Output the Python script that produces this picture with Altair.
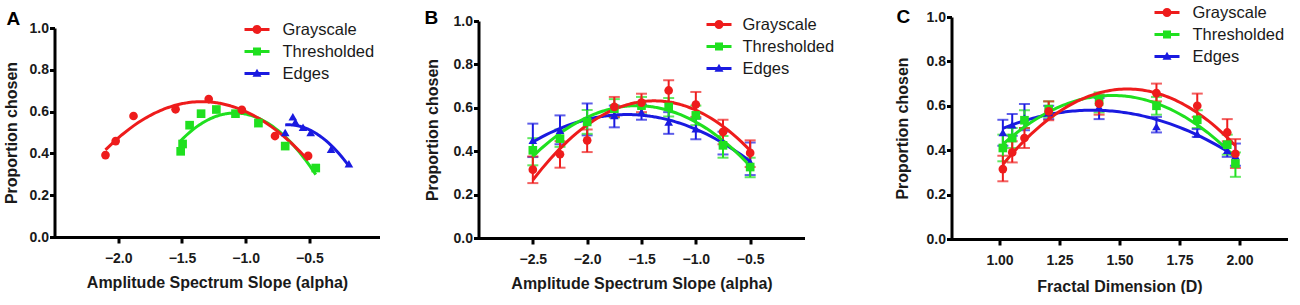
import altair as alt
import pandas as pd

FONT = "Liberation Sans"
SERIES = ["Grayscale", "Thresholded", "Edges"]
COLORS = ["#ee1c1c", "#1fe01f", "#1a1ae0"]
POINT_SHAPES = ["circle", "square", "triangle-up"]
LEGEND_SHAPES = [
    "M-1,-0.12H1V0.12H-1Z M-0.36,0A0.36,0.36 0 1,1 0.36,0A0.36,0.36 0 1,1 -0.36,0Z",
    "M-1,-0.12H1V0.12H-1Z M-0.32,-0.32H0.32V0.32H-0.32Z",
    "M-1,-0.12H1V0.12H-1Z M0,-0.38L0.36,0.26L-0.36,0.26Z",
]
Y_TICKS = [0.0, 0.2, 0.4, 0.6, 0.8, 1.0]

# ---------------- Panel A (no error bars) ----------------
A_gray_x = [-2.10, -2.02, -1.88, -1.55, -1.29, -1.03, -0.77, -0.51]
A_gray_y = [0.392, 0.459, 0.579, 0.611, 0.660, 0.608, 0.483, 0.388]
A_thr_x = [-1.51, -1.495, -1.44, -1.35, -1.23, -1.08, -0.90, -0.69, -0.45]
A_thr_y = [0.410, 0.445, 0.535, 0.590, 0.610, 0.590, 0.545, 0.435, 0.330]
A_edge_x = [-0.69, -0.63, -0.61, -0.55, -0.49, -0.33, -0.19]
A_edge_y = [0.500, 0.575, 0.550, 0.525, 0.500, 0.420, 0.350]

# ---------------- Panel B ----------------
B_x = [-2.5, -2.25, -2.0, -1.75, -1.5, -1.25, -1.0, -0.75, -0.5]
B_gray_y = [0.315, 0.386, 0.450, 0.604, 0.624, 0.680, 0.615, 0.489, 0.392]
B_gray_lo = [0.253, 0.324, 0.396, 0.558, 0.580, 0.627, 0.558, 0.432, 0.327]
B_gray_hi = [0.376, 0.446, 0.500, 0.650, 0.665, 0.727, 0.673, 0.545, 0.450]
B_thr_y = [0.404, 0.458, 0.535, 0.596, 0.610, 0.604, 0.565, 0.427, 0.327]
B_thr_lo = [0.335, 0.420, 0.480, 0.555, 0.570, 0.560, 0.520, 0.370, 0.280]
B_thr_hi = [0.460, 0.500, 0.590, 0.640, 0.650, 0.645, 0.610, 0.470, 0.370]
B_edge_y = [0.450, 0.496, 0.542, 0.565, 0.580, 0.535, 0.504, 0.440, 0.350]
B_edge_lo = [0.373, 0.432, 0.473, 0.510, 0.545, 0.480, 0.455, 0.385, 0.290]
B_edge_hi = [0.527, 0.565, 0.620, 0.610, 0.615, 0.580, 0.550, 0.490, 0.440]

# ---------------- Panel C ----------------
C_x = [1.014, 1.053, 1.104, 1.205, 1.415, 1.654, 1.824, 1.949, 1.983]
C_gray_y = [0.315, 0.390, 0.455, 0.575, 0.610, 0.657, 0.600, 0.480, 0.384]
C_gray_lo = [0.260, 0.345, 0.410, 0.535, 0.560, 0.620, 0.550, 0.440, 0.320]
C_gray_hi = [0.375, 0.440, 0.500, 0.620, 0.650, 0.700, 0.655, 0.540, 0.450]
C_thr_y = [0.410, 0.455, 0.535, 0.585, 0.620, 0.600, 0.537, 0.425, 0.340]
C_thr_lo = [0.350, 0.410, 0.500, 0.550, 0.570, 0.560, 0.500, 0.380, 0.280]
C_thr_hi = [0.470, 0.500, 0.580, 0.620, 0.660, 0.640, 0.580, 0.470, 0.390]
C_edge_y = [0.480, 0.515, 0.545, 0.570, 0.595, 0.507, 0.473, 0.400, 0.375]
C_edge_lo = [0.420, 0.465, 0.490, 0.540, 0.540, 0.480, 0.460, 0.370, 0.330]
C_edge_hi = [0.537, 0.563, 0.608, 0.600, 0.635, 0.550, 0.495, 0.430, 0.430]


def make_df(groups):
    rows = []
    for name, xs, ys, los, his in groups:
        for i in range(len(xs)):
            r = {"series": name, "x": xs[i], "y": ys[i]}
            if los is not None:
                r["lo"] = los[i]
                r["hi"] = his[i]
            rows.append(r)
    return pd.DataFrame(rows)


# drawing order: Edges first, Grayscale on top
dfA = make_df([
    ("Edges", A_edge_x, A_edge_y, None, None),
    ("Thresholded", A_thr_x, A_thr_y, None, None),
    ("Grayscale", A_gray_x, A_gray_y, None, None),
])
dfB = make_df([
    ("Edges", B_x, B_edge_y, B_edge_lo, B_edge_hi),
    ("Thresholded", B_x, B_thr_y, B_thr_lo, B_thr_hi),
    ("Grayscale", B_x, B_gray_y, B_gray_lo, B_gray_hi),
])
dfC = make_df([
    ("Edges", C_x, C_edge_y, C_edge_lo, C_edge_hi),
    ("Thresholded", C_x, C_thr_y, C_thr_lo, C_thr_hi),
    ("Grayscale", C_x, C_gray_y, C_gray_lo, C_gray_hi),
])


def panel(df, letter, xdomain, xticks, xfmt, xtitle, plot_w, group_w, height, ytop,
          leg_x, leg_y, leg_off, title_dx, title_off, ytitle_x, xtitle_y, errors):
    xs = alt.Scale(domain=xdomain, range=[0, plot_w], nice=False, zero=False)
    ys = alt.Scale(domain=[0, 1], range=[height, ytop], nice=False)
    xa = alt.Axis(values=xticks, format=xfmt, title=xtitle, grid=False,
                  domainColor="black", domainWidth=3, tickColor="black", tickWidth=3,
                  tickSize=6, labelFont=FONT, labelFontSize=14, labelFontWeight="bold",
                  labelColor="#1a1a1a", labelBaseline="alphabetic", labelPadding=19.5,
                  labelFlush=False, titleFont=FONT, titleFontSize=16,
                  titleFontWeight="bold", titleColor="#1a1a1a",
                  titleBaseline="alphabetic", titleX=plot_w / 2, titleY=xtitle_y)
    ya = alt.Axis(values=Y_TICKS, format=".1f", title="Proportion chosen", grid=False,
                  domainColor="black", domainWidth=3, tickColor="black", tickWidth=3,
                  tickSize=5, labelFont=FONT, labelFontSize=14, labelFontWeight="bold",
                  labelColor="#1a1a1a", labelPadding=1, labelFlush=False,
                  titleFont=FONT, titleFontSize=16, titleFontWeight="bold",
                  titleColor="#1a1a1a", titleBaseline="middle", titleAngle=270,
                  titleX=ytitle_x, titleY=(height + ytop) / 2)
    X = alt.X("x:Q", scale=xs, axis=xa)
    Y = alt.Y("y:Q", scale=ys, axis=ya)
    cscale = alt.Scale(domain=SERIES, range=COLORS)
    col = alt.Color("series:N", scale=cscale, legend=None)
    base = alt.Chart(df)

    layers = []
    if errors:
        layers.append(
            base.mark_errorbar(ticks={"size": 11}, thickness=2).encode(
                x=X, y=alt.Y("lo:Q", scale=ys, axis=ya), y2="hi:Q", color=col)
        )
    layers.append(
        base.transform_regression("x", "y", method="poly", order=2, groupby=["series"])
        .mark_line(strokeWidth=3)
        .encode(x=X, y=Y, color=col)
    )
    layers.append(
        base.mark_point(filled=True, size=75, opacity=1).encode(
            x=X, y=Y, color=col,
            shape=alt.Shape("series:N", scale=alt.Scale(domain=SERIES, range=POINT_SHAPES),
                            legend=None))
    )
    leg = alt.Legend(orient="none", legendX=leg_x, legendY=leg_y, title=None,
                     labelFont=FONT, labelFontSize=16.5, labelColor="#1a1a1a",
                     symbolSize=625, rowPadding=1, labelOffset=leg_off, padding=0,
                     symbolStrokeWidth=0, symbolOpacity=1)
    layers.append(
        base.transform_filter("false").mark_point(filled=True, opacity=1, size=625).encode(
            color=alt.Color("series:N", scale=alt.Scale(domain=SERIES, range=COLORS), legend=leg),
            shape=alt.Shape("series:N", scale=alt.Scale(domain=SERIES, range=LEGEND_SHAPES),
                            legend=leg))
    )
    return alt.layer(*layers).resolve_scale(color="independent", shape="independent").properties(
        width=group_w, height=height,
        title=alt.TitleParams(text=letter, anchor="start", frame="group", dx=title_dx,
                              offset=title_off, font=FONT, fontSize=19, fontWeight="bold",
                              color="black", baseline="alphabetic"),
    )


pA = panel(dfA, "A", [-2.5, 0.05], [-2.0, -1.5, -1.0, -0.5], ".1f",
           "Amplitude Spectrum Slope (alpha)", 325, 325, 220, 11,
           190, 0, 13, -48, -27, -43, 50, False)
pB = panel(dfB, "B", [-3.0, 0.0], [-2.5, -2.0, -1.5, -1.0, -0.5], ".1f",
           "Amplitude Spectrum Slope (alpha)", 326, 374, 221, 4,
           228, -5, 11, -54, -31, -46, 50, True)
pC = panel(dfC, "C", [0.8, 2.2], [1.0, 1.25, 1.5, 1.75, 2.0], ".2f",
           "Fractal Dimension (D)", 336, 336, 222, 0,
           203, -17, 13, -55, -42, -49, 52, True)

chart = alt.hconcat(pA, pB, pC, spacing=99, bounds="flush").properties(
    padding={"left": 3.5, "top": 0, "right": 0, "bottom": 0},
    background="white",
).configure_view(stroke=None)

chart.save("out.html", embed_options={"renderer": "svg", "actions": False})
